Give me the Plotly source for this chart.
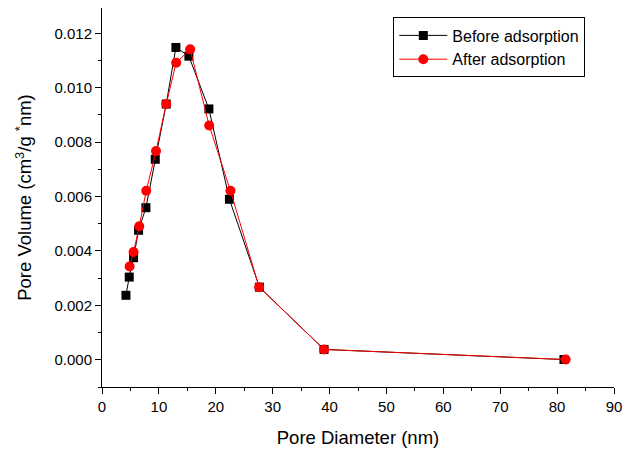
import plotly.graph_objects as go

before_x = [4.21, 4.79, 5.55, 6.43, 7.72, 9.36, 11.29, 12.99, 15.27, 18.79, 22.40, 27.67, 39.03, 81.2]
before_y = [0.00237, 0.00304, 0.00375, 0.00476, 0.00559, 0.00737, 0.00940, 0.01148, 0.01116, 0.00922, 0.00590, 0.00267, 0.00038, 0.00001]

after_x = [4.85, 5.55, 6.55, 7.78, 9.49, 11.29, 13.04, 15.50, 18.84, 22.58, 27.62, 39.03, 81.5]
after_y = [0.00343, 0.00396, 0.00491, 0.00621, 0.00767, 0.00940, 0.01092, 0.01141, 0.00861, 0.00621, 0.00267, 0.00038, 0.00001]

x_ticks = [0, 10, 20, 30, 40, 50, 60, 70, 80, 90]
y_ticks = [0.000, 0.002, 0.004, 0.006, 0.008, 0.010, 0.012]

FONT = "Liberation Sans, Arial, sans-serif"

fig = go.Figure()
fig.add_trace(go.Scatter(
    x=before_x, y=before_y, mode="lines+markers", name="Before adsorption",
    line=dict(color="black", width=1),
    marker=dict(symbol="square", size=9, color="black"),
))
fig.add_trace(go.Scatter(
    x=after_x, y=after_y, mode="lines+markers", name="After adsorption",
    line=dict(color="red", width=1),
    marker=dict(symbol="circle", size=10, color="red"),
))

axis_common = dict(
    showline=True, linecolor="black", linewidth=1,
    ticks="outside", ticklen=6, tickwidth=1, tickcolor="black",
    showgrid=False, zeroline=False, mirror=False, automargin=False,
    tickfont=dict(family=FONT, size=15, color="black"),
)

# page body has an 8px default margin, so the figure is sized to fit the window
fig.update_layout(
    width=628, height=443,
    margin=dict(l=94, r=22, t=0, b=64),
    paper_bgcolor="white", plot_bgcolor="white",
    font=dict(family=FONT, color="black"),
    xaxis=dict(
        range=[0, 90], tickvals=x_ticks, ticktext=[str(v) for v in x_ticks],
        minor=dict(dtick=5, tick0=0, ticks="outside", ticklen=3, tickcolor="black", showgrid=False),
        title=dict(text="Pore Diameter (nm)", font=dict(family=FONT, size=18.5), standoff=17),
        **axis_common,
    ),
    yaxis=dict(
        range=[-0.001, 0.01293], tickvals=y_ticks, ticktext=[f"{v:.3f}" for v in y_ticks],
        minor=dict(dtick=0.001, tick0=0, ticks="outside", ticklen=3, tickcolor="black", showgrid=False),
        title=dict(text="Pore Volume (cm<sup>3</sup>/g <sup>*</sup>nm)", font=dict(family=FONT, size=18.5), standoff=17),
        **axis_common,
    ),
    legend=dict(
        x=0.569, y=0.975, xanchor="left", yanchor="top",
        bordercolor="black", borderwidth=1, bgcolor="white",
        font=dict(family=FONT, size=16, color="black"),
        tracegroupgap=0, itemwidth=48,
    ),
)

fig.write_html("out.html")
